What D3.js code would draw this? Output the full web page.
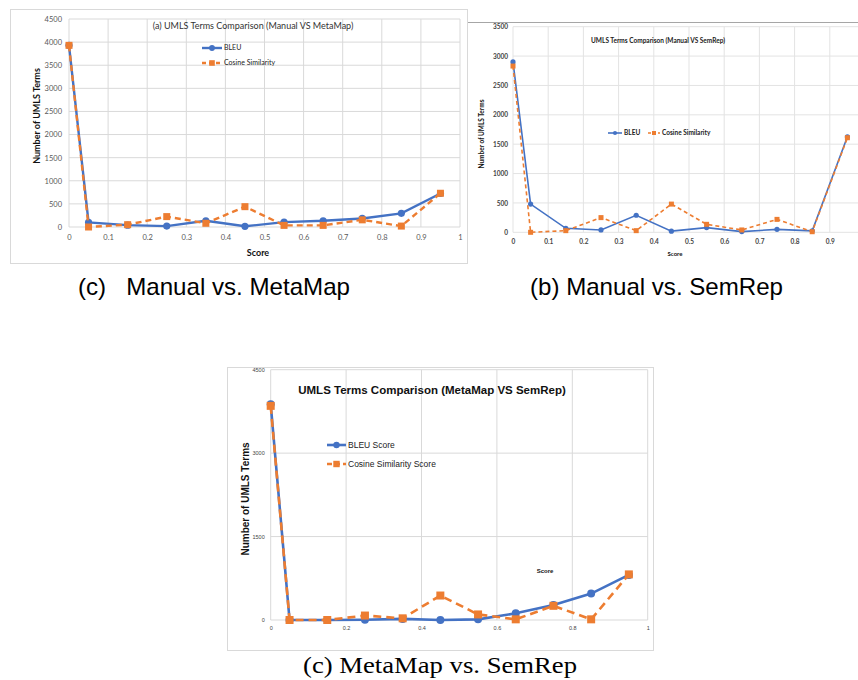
<!DOCTYPE html>
<html>
<head>
<meta charset="utf-8">
<script src="https://cdn.jsdelivr.net/npm/d3@7"></script>
<style>
  body { margin: 0; background: #fff; }
  svg { display: block; }
</style>
</head>
<body>
<div id="chart"></div>
<script>
// score bins shared by all three charts
const scores = [0, 0.05, 0.15, 0.25, 0.35, 0.45, 0.55, 0.65, 0.75, 0.85, 0.95];

// (a) Manual vs MetaMap
const bleuManualMetaMap = [3930, 100, 40, 20, 135, 15, 105, 135, 185, 295, 725];
const cosineManualMetaMap = [3930, 0, 50, 225, 80, 440, 35, 35, 155, 20, 730];

// (b) Manual vs SemRep
const bleuManualSemRep = [2900, 480, 68, 40, 290, 20, 80, 12, 50, 25, 1625];
const cosineManualSemRep = [2830, 0, 28, 250, 28, 480, 136, 40, 220, 10, 1610];

// (c) MetaMap vs SemRep
const bleuMetaMapSemRep = [3880, 0, 0, 5, 20, 0, 12, 120, 270, 475, 810];
const cosineMetaMapSemRep = [3850, 0, 0, 80, 30, 440, 100, 12, 255, 12, 820];

const ticksA = { x: d3.range(0, 1.01, 0.1), y: d3.range(0, 4501, 500) };
const ticksB = { x: d3.range(0, 0.91, 0.1), y: d3.range(0, 3501, 500) };
const ticksC = { x: [0, 0.2, 0.4, 0.6, 0.8, 1], y: [0, 1500, 3000, 4500] };

const blue = '#4472C4';
const orange = '#ED7D31';

const svg = d3.select('#chart').append('svg')
    .attr('width', 858)
    .attr('height', 680);

svg.append('rect').attr('width', 858).attr('height', 680).attr('fill', '#fff');

function drawChart(o) {
    const g = svg.append('g');

    const x = d3.scaleLinear().domain([0, 1]).range([o.left, o.right]);
    const y = d3.scaleLinear().domain([0, o.ymax]).range([o.bottom, o.top]);

    // vertical grid
    g.selectAll('.vgrid').data(o.ticks.x.concat(o.extraGridX || []))
        .enter().append('line')
        .attr('x1', d => x(d)).attr('x2', d => x(d))
        .attr('y1', o.bottom).attr('y2', o.top)
        .attr('stroke', o.gridColor).attr('stroke-width', 1);

    // horizontal grid
    g.selectAll('.hgrid').data(o.ticks.y)
        .enter().append('line')
        .attr('x1', o.left).attr('x2', o.gridRight || o.right)
        .attr('y1', d => y(d)).attr('y2', d => y(d))
        .attr('stroke', o.gridColor).attr('stroke-width', 1);

    // axes, drawn with d3 then stripped of lines
    const xAxis = g.append('g')
        .attr('transform', `translate(0,${o.bottom})`)
        .call(d3.axisBottom(x).tickValues(o.ticks.x).tickSize(0).tickPadding(o.tickPadX)
            .tickFormat(d => +d.toFixed(1)));
    const yAxis = g.append('g')
        .attr('transform', `translate(${o.left},0)`)
        .call(d3.axisLeft(y).tickValues(o.ticks.y).tickSize(0).tickPadding(o.tickPadY)
            .tickFormat(d => d));
    [xAxis, yAxis].forEach(a => {
        a.select('.domain').remove();
        a.selectAll('text')
            .attr('font-family', o.font)
            .attr('font-size', o.tickSize)
            .attr('font-weight', o.tickWeight)
            .attr('fill', o.tickColor);
    });

    const line = d3.line().x((d, i) => x(scores[i])).y(d => y(d));

    // BLEU
    g.append('path').datum(o.bleu)
        .attr('d', line).attr('fill', 'none')
        .attr('stroke', blue).attr('stroke-width', o.lw);
    g.selectAll('.dot').data(o.bleu).enter().append('circle')
        .attr('cx', (d, i) => x(scores[i])).attr('cy', d => y(d))
        .attr('r', o.r).attr('fill', blue);

    // Cosine
    g.append('path').datum(o.cosine)
        .attr('d', line).attr('fill', 'none')
        .attr('stroke', orange).attr('stroke-width', o.lw)
        .attr('stroke-dasharray', o.dash);
    g.selectAll('.sq').data(o.cosine).enter().append('rect')
        .attr('x', (d, i) => x(scores[i]) - o.sq / 2).attr('y', d => y(d) - o.sq / 2)
        .attr('width', o.sq).attr('height', o.sq).attr('fill', orange);

    // title
    g.append('text')
        .attr('x', o.titleX).attr('y', o.titleY)
        .attr('text-anchor', 'middle')
        .attr('font-family', o.titleFont || o.font)
        .attr('font-size', o.titleSize)
        .attr('font-weight', o.titleWeight)
        .attr('fill', o.titleColor)
        .text(o.title);

    // legend
    o.legend.forEach(l => {
        const lg = g.append('g');
        lg.append('line')
            .attr('x1', l.x1).attr('x2', l.x2).attr('y1', l.y).attr('y2', l.y)
            .attr('stroke', l.color).attr('stroke-width', o.lw)
            .attr('stroke-dasharray', l.dashed ? o.legendDash : null);
        const cx = (l.x1 + l.x2) / 2;
        if (l.dashed) {
            lg.append('rect').attr('x', cx - o.sq / 2 * 0.8).attr('y', l.y - o.sq / 2 * 0.8)
                .attr('width', o.sq * 0.8).attr('height', o.sq * 0.8).attr('fill', l.color);
        } else {
            lg.append('circle').attr('cx', cx).attr('cy', l.y).attr('r', o.r * 0.8).attr('fill', l.color);
        }
        lg.append('text')
            .attr('x', l.x2 + 2).attr('y', l.y).attr('dy', '0.35em')
            .attr('font-family', o.legendFont || o.font)
            .attr('font-size', o.legendSize)
            .attr('font-weight', o.legendWeight)
            .attr('fill', '#222')
            .text(l.label);
    });

    // axis labels
    g.append('text')
        .attr('x', o.xLabelX).attr('y', o.xLabelY)
        .attr('text-anchor', 'middle')
        .attr('font-family', o.labelFont || o.font)
        .attr('font-size', o.xLabelSize)
        .attr('font-weight', 'bold')
        .attr('fill', '#111')
        .text('Score');
    g.append('text')
        .attr('transform', `translate(${o.yLabelX},${o.yLabelY}) rotate(-90)`)
        .attr('text-anchor', 'middle')
        .attr('font-family', o.labelFont || o.font)
        .attr('font-size', o.yLabelSize)
        .attr('font-weight', 'bold')
        .attr('fill', '#111')
        .text('Number of UMLS Terms');
}

// frames
svg.append('rect').attr('x', 10.5).attr('y', 9.5).attr('width', 457).attr('height', 254)
    .attr('fill', 'none').attr('stroke', '#d9d9d9');
svg.append('line').attr('x1', 468).attr('x2', 858).attr('y1', 22.5).attr('y2', 22.5)
    .attr('stroke', '#a6a6a6');
svg.append('rect').attr('x', 227.5).attr('y', 367.5).attr('width', 426).attr('height', 283)
    .attr('fill', 'none').attr('stroke', '#d9d9d9');

drawChart({
    left: 69, right: 460, top: 19, bottom: 227, ymax: 4500,
    ticks: ticksA, gridColor: '#d9d9d9',
    font: 'Lato, "Open Sans", sans-serif', tickSize: 7.5, tickWeight: 'normal', tickColor: '#595959',
    tickPadX: 8, tickPadY: 7,
    bleu: bleuManualMetaMap, cosine: cosineManualMetaMap,
    lw: 2.4, r: 3.6, sq: 7, dash: '6,4', legendDash: '4,3',
    title: '(a) UMLS Terms Comparison (Manual VS MetaMap)', titleX: 253, titleY: 29,
    titleSize: 9, titleWeight: 'normal', titleColor: '#333',
    legend: [
        { x1: 202, x2: 222, y: 48, color: blue, label: 'BLEU' },
        { x1: 202, x2: 222, y: 63, color: orange, label: 'Cosine Similarity', dashed: true }
    ],
    legendSize: 7, legendWeight: 'normal',
    xLabelX: 258, xLabelY: 256, xLabelSize: 9,
    yLabelX: 40, yLabelY: 116, yLabelSize: 9
});

drawChart({
    left: 513, right: 865, gridRight: 858, top: 26.7, bottom: 232.3, ymax: 3500,
    ticks: ticksB, extraGridX: [1], gridColor: '#e3e3e3',
    font: 'Lato, "Open Sans", sans-serif', tickSize: 6.5, tickWeight: 'bold', tickColor: '#444',
    tickPadX: 7, tickPadY: 5,
    bleu: bleuManualSemRep, cosine: cosineManualSemRep,
    lw: 1.6, r: 2.6, sq: 5, dash: '4,3', legendDash: '3,2',
    title: 'UMLS Terms Comparison (Manual VS SemRep)', titleX: 658, titleY: 43,
    titleSize: 6.5, titleWeight: 'bold', titleColor: '#222',
    legend: [
        { x1: 608, x2: 622, y: 133, color: blue, label: 'BLEU' },
        { x1: 648, x2: 660, y: 133, color: orange, label: 'Cosine Similarity', dashed: true }
    ],
    legendSize: 6.5, legendWeight: 'bold',
    xLabelX: 675, xLabelY: 256, xLabelSize: 6,
    yLabelX: 484, yLabelY: 134, yLabelSize: 6.5
});

drawChart({
    left: 270.7, right: 647.7, top: 369.7, bottom: 620, ymax: 4500,
    ticks: ticksC, gridColor: '#d9d9d9',
    font: '"Liberation Sans", Arial, sans-serif', tickSize: 5.5, tickWeight: 'normal', tickColor: '#444',
    tickPadX: 6, tickPadY: 6,
    bleu: bleuMetaMapSemRep, cosine: cosineMetaMapSemRep,
    lw: 2.6, r: 4, sq: 8, dash: '8,5', legendDash: '5,3',
    title: 'UMLS Terms Comparison (MetaMap VS SemRep)', titleX: 432, titleY: 394,
    titleSize: 11.5, titleWeight: 'bold', titleColor: '#111',
    legend: [
        { x1: 327, x2: 346, y: 445, color: blue, label: 'BLEU Score' },
        { x1: 327, x2: 346, y: 464, color: orange, label: 'Cosine Similarity Score', dashed: true }
    ],
    legendSize: 8.5, legendWeight: 'normal',
    xLabelX: 545, xLabelY: 573, xLabelSize: 6,
    yLabelX: 249, yLabelY: 499, yLabelSize: 10
});

// captions
svg.append('text').attr('x', 78).attr('y', 295)
    .attr('font-family', '"Liberation Sans", Arial, sans-serif').attr('font-size', 24)
    .attr('fill', '#000').style('white-space', 'pre')
    .attr('textLength', 272).attr('lengthAdjust', 'spacingAndGlyphs')
    .text('(c)   Manual vs. MetaMap');
svg.append('text').attr('x', 530).attr('y', 295)
    .attr('font-family', '"Liberation Sans", Arial, sans-serif').attr('font-size', 24)
    .attr('fill', '#000')
    .attr('textLength', 253).attr('lengthAdjust', 'spacingAndGlyphs')
    .text('(b) Manual vs. SemRep');
svg.append('text').attr('x', 303).attr('y', 673)
    .attr('font-family', '"Liberation Serif", "Times New Roman", serif').attr('font-size', 24)
    .attr('fill', '#000')
    .attr('textLength', 274).attr('lengthAdjust', 'spacingAndGlyphs')
    .text('(c) MetaMap vs. SemRep');
</script>
</body>
</html>
